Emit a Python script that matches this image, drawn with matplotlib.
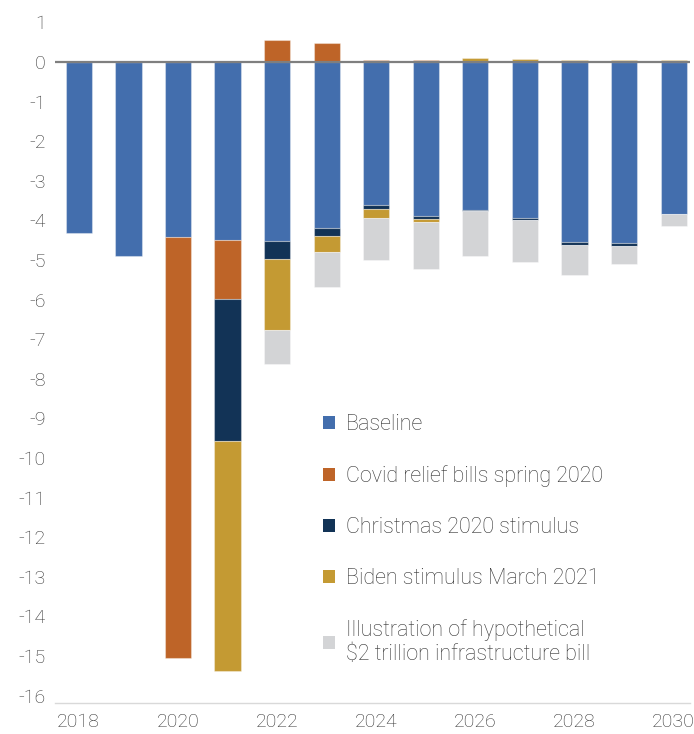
import numpy as np
import matplotlib
matplotlib.use("Agg")
import matplotlib.pyplot as plt
from matplotlib.patches import Patch

plt.rcParams['font.family'] = ['Roboto', 'DejaVu Sans']

years = np.arange(2018, 2031)
baseline = [-4.33, -4.89, -4.43, -4.49, -4.51, -4.19, -3.61, -3.88, -3.74, -3.93, -4.55, -4.57, -3.85]
covid = [0, 0, -10.62, -1.49, 0.56, 0.49, 0.06, 0.06, 0, 0, 0, 0, 0]
christmas = [0, 0, 0, -3.60, -0.46, -0.20, -0.10, -0.08, -0.03, -0.06, -0.08, -0.08, 0]
biden = [0, 0, 0, -5.79, -1.79, -0.41, -0.23, -0.08, 0.09, 0.07, 0.06, 0.06, 0.05]
infra = [0, 0, 0, 0, -0.87, -0.89, -1.05, -1.18, -1.14, -1.06, -0.74, -0.45, -0.30]

series = [
    ("Baseline", baseline, "#436EAD"),
    ("Covid relief bills spring 2020", covid, "#BE6428"),
    ("Christmas 2020 stimulus", christmas, "#123356"),
    ("Biden stimulus March 2021", biden, "#C49A33"),
    ("Illustration of hypothetical\n$2 trillion infrastructure bill", infra, "#D3D4D6"),
]

W, H = 694, 734
fig = plt.figure(figsize=(W / 100, H / 100), dpi=100)
ax = fig.add_axes([55 / W, 31.3 / H, 635 / W, 692.2 / H])

pos = np.zeros(len(years))
neg = np.zeros(len(years))
handles = []
for name, vals, col in series:
    v = np.array(vals, dtype=float)
    bottom = np.where(v >= 0, pos, neg)
    ax.bar(years, v, bottom=bottom, width=0.53, color=col,
           edgecolor=(1, 1, 1, 0.35), linewidth=0.8, zorder=2)
    pos += np.where(v >= 0, v, 0)
    neg += np.where(v < 0, v, 0)
    handles.append(Patch(facecolor=col, edgecolor='none', label=name))

ax.axhline(0, color="#7f7f7f", linewidth=1.6, zorder=3)

ax.set_xlim(2017.52, 2030.33)
ax.set_ylim(-16.18, 1.3)
ax.set_yticks(np.arange(-16, 2, 1))
ax.set_yticklabels([str(t) for t in range(-16, 2)])
ax.set_xticks(np.arange(2018, 2031, 2))
ax.tick_params(axis='both', length=0, colors="#333333", labelsize=14)
ax.tick_params(axis='y', pad=6.5)
ax.tick_params(axis='x', pad=7.5)
for lab in ax.get_xticklabels() + ax.get_yticklabels():
    lab.set_fontweight('light')

for s in ['top', 'right', 'left']:
    ax.spines[s].set_visible(False)
ax.spines['bottom'].set_color("#d9d9d9")
ax.spines['bottom'].set_linewidth(1.0)

leg = ax.legend(handles=handles, loc='upper left',
                bbox_to_anchor=((323 - 55) / 635, (702.7 - 414) / 692.2),
                bbox_transform=ax.transAxes, frameon=False, fontsize=15.5,
                handlelength=0.56, handleheight=0.56, handletextpad=0.5, labelspacing=1.4,
                borderaxespad=0, borderpad=0)
for t in leg.get_texts():
    t.set_color("#333333")
    t.set_fontweight('light')
leg.get_texts()[-1].set_linespacing(1.15)

fig.savefig("out.png", dpi=100)
